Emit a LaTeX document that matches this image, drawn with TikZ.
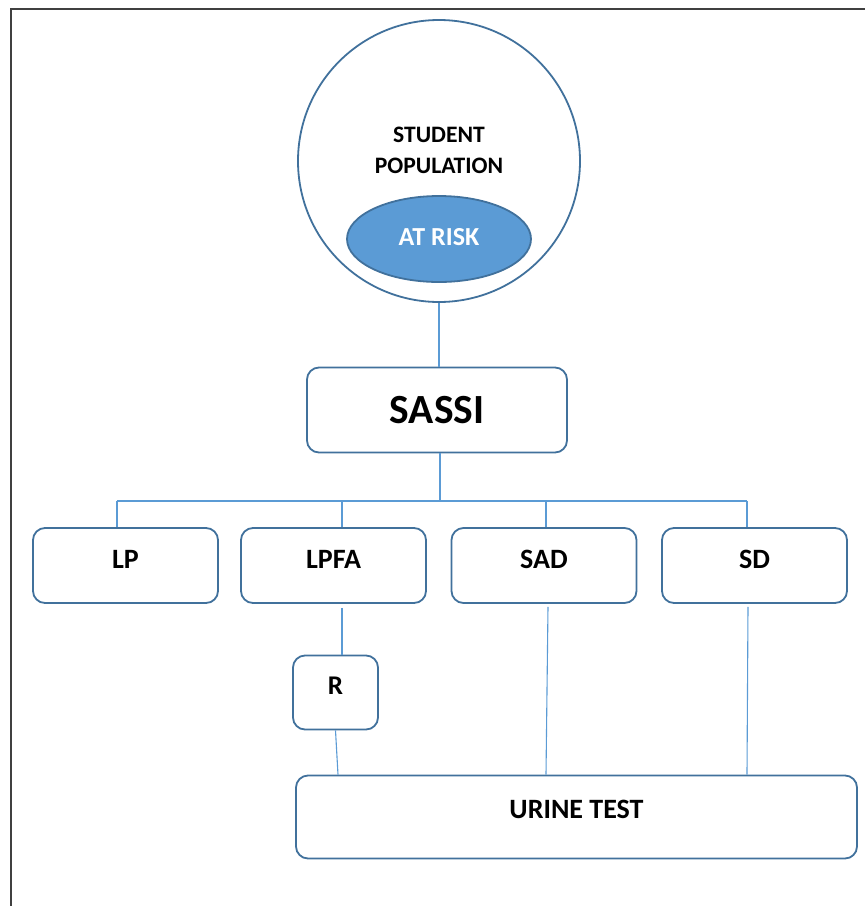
\documentclass[tikz,border=0pt]{standalone}
\usepackage{fontspec}
\setmainfont{Carlito}
\usetikzlibrary{shapes.geometric}
\definecolor{bdr}{HTML}{41719C}
\definecolor{fillb}{HTML}{5B9BD5}
\definecolor{conn}{HTML}{5B9BD5}
\definecolor{frame}{HTML}{404040}
\begin{document}
\begin{tikzpicture}[x=1pt,y=-1pt,
  box/.style={draw=bdr,line width=1.8pt,rounded corners=12pt,fill=white,inner sep=0pt,font=\bfseries},
  smallbox/.style={box,minimum width=185pt,minimum height=75pt,font=\bfseries\fontsize{28}{30}\selectfont,text height=17.7pt,text depth=11pt},
  link/.style={draw=conn,line width=1.1pt}]
\useasboundingbox (0,0) rectangle (865,906);
\draw[frame,line width=2pt] (10.5,906) -- (10.5,8.7) -- (865,8.7);

% population
\node[circle,draw=bdr,line width=1.8pt,minimum size=282pt,inner sep=0pt] (pop) at (439,161) {};
\node[font=\bfseries\fontsize{23.6}{31}\selectfont,align=center] (poptext) at (439,150) {STUDENT\\POPULATION};
\node[ellipse,draw=bdr,line width=1.8pt,fill=fillb,minimum width=184pt,minimum height=86pt,inner sep=0pt,
  text=white,font=\bfseries\fontsize{26}{28}\selectfont,text height=16.7pt,text depth=4pt] (risk) at (439,239) {AT RISK};

% SASSI
\node[box,minimum width=260pt,minimum height=85pt,font=\bfseries\fontsize{41.5}{44}\selectfont] (sassi) at (437,410) {SASSI};

% second row
\node[smallbox] (lp) at (125.5,565.5) {LP};
\node[smallbox] (lpfa) at (333.5,565.5) {LPFA};
\node[smallbox] (sad) at (544,565.5) {SAD};
\node[smallbox] (sd) at (754.5,565.5) {SD};

% R and urine
\node[box,minimum width=85pt,minimum height=74pt,font=\bfseries\fontsize{27}{30}\selectfont,text height=17.7pt,text depth=14pt] (r) at (335.5,692.5) {R};
\node[box,minimum width=561pt,minimum height=83pt,font=\bfseries\fontsize{28}{30}\selectfont,text height=17.7pt,text depth=14pt] (urine) at (576.5,817) {URINE TEST};

% connectors
\coordinate (bus) at (440,501);
\coordinate (bLP) at (117,501);
\coordinate (bLPFA) at (342,501);
\coordinate (bSAD) at (546,501);
\coordinate (bSD) at (747,501);
\draw[link] (pop.south) -- (pop.south |- sassi.north);
\draw[link] ([xshift=3pt]sassi.south) -- (bus);
\draw[link] (bLP) -- (bSD);
\draw[link] (bLP) -- (bLP |- lp.north);
\draw[link] (bLPFA) -- (bLPFA |- lpfa.north);
\draw[link] (bSAD) -- (bSAD |- sad.north);
\draw[link] (bSD) -- (bSD |- sd.north);
\draw[link] ([xshift=8.5pt,yshift=-4pt]lpfa.south) -- ([xshift=6.5pt]r.north);
\draw[link] (r.south) -- ([xshift=-238.5pt]urine.north);
\draw[link] ([xshift=4pt,yshift=-3pt]sad.south) -- ([xshift=-30.5pt]urine.north);
\draw[link] ([xshift=-6.5pt,yshift=-3pt]sd.south) -- ([xshift=170.5pt]urine.north);
\end{tikzpicture}
\end{document}
